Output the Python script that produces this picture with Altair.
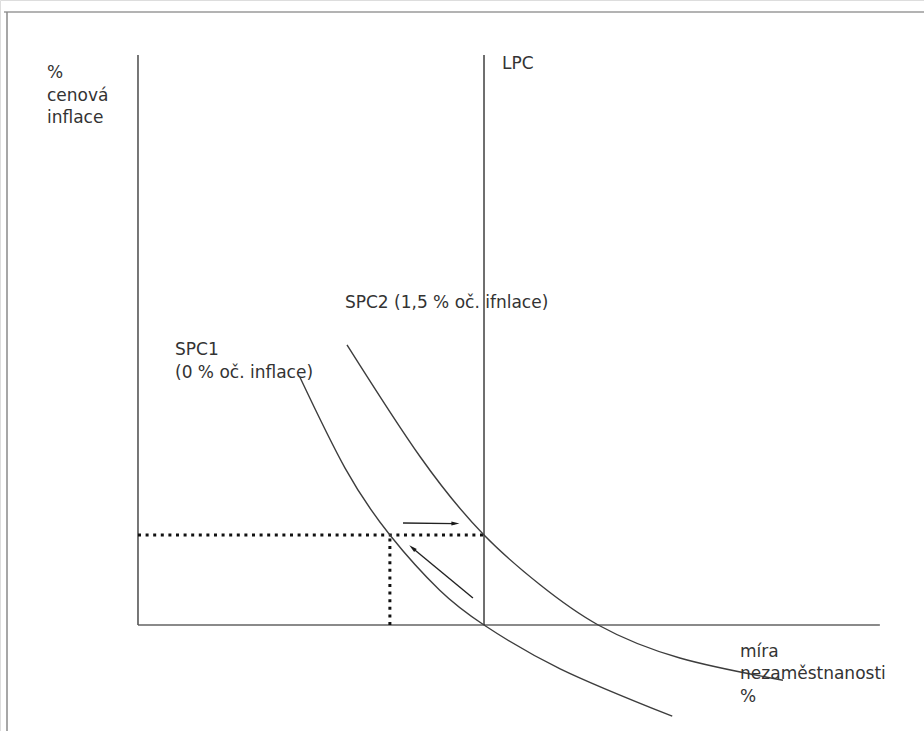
import altair as alt
import pandas as pd

# --- data (unemployment %, inflation %) ---
spc1_u = [2.34, 2.99, 3.64, 4.36, 5.00, 6.10, 7.72]
spc1_pi = [4.13, 2.62, 1.50, 0.58, 0.00, -0.73, -1.52]
spc2_u = [3.02, 4.08, 5.00, 5.81, 6.65, 7.83, 9.32]
spc2_pi = [4.67, 2.80, 1.50, 0.67, 0.00, -0.55, -0.92]
natural_u = 5.0
expected_pi = 1.5
spc1_at_expected = 3.64
axis_top = 9.5
axis_right = 10.72

# arrows: start and end points
arrow_u0 = [3.83, 4.84]
arrow_pi0 = [1.70, 0.45]
arrow_u1 = [4.58, 3.97]
arrow_pi1 = [1.69, 1.28]
arrow_angle = [90, 310]

# labels (first-line anchor) and lines
label_u = [-1.315, 5.26, 2.99, 0.535, 8.70]
label_pi = [9.20, 9.35, 5.37, 4.58, -0.45]
label_lines = [
    ["%", "cenová", "inflace"],
    ["LPC"],
    ["SPC2 (1,5 % oč. ifnlace)"],
    ["SPC1", "(0 % oč. inflace)"],
    ["míra", "nezaměstnanosti", "%"],
]
line_step = 0.375

X = alt.Scale(domain=[-1.994, 11.358], nice=False, zero=False)
Y = alt.Scale(domain=[-1.767, 10.418], nice=False, zero=False)

curves = pd.DataFrame(
    [{"u": u, "pi": p, "c": "SPC1", "o": i} for i, (u, p) in enumerate(zip(spc1_u, spc1_pi))]
    + [{"u": u, "pi": p, "c": "SPC2", "o": i} for i, (u, p) in enumerate(zip(spc2_u, spc2_pi))]
)

curve_layer = alt.Chart(curves).mark_line(
    interpolate="natural", color="#3d3d3d", strokeWidth=1.4
).encode(
    x=alt.X("u:Q", scale=X, axis=None),
    y=alt.Y("pi:Q", scale=Y, axis=None),
    detail="c:N",
    order="o:Q",
)

xaxis = alt.Chart(pd.DataFrame([{"u": 0, "pi": 0, "u2": axis_right}])).mark_rule(
    color="#8a8a8a", strokeWidth=2.2
).encode(x=alt.X("u:Q", scale=X, axis=None), x2="u2:Q",
         y=alt.Y("pi:Q", scale=Y, axis=None))

yaxis = alt.Chart(pd.DataFrame([{"u": 0, "pi": 0, "pi2": axis_top}])).mark_rule(
    color="#555555", strokeWidth=1.6
).encode(x=alt.X("u:Q", scale=X, axis=None),
         y=alt.Y("pi:Q", scale=Y, axis=None), y2="pi2:Q")

lpc = alt.Chart(pd.DataFrame([{"u": natural_u, "pi": 0, "pi2": axis_top}])).mark_rule(
    color="#222222", strokeWidth=1.3
).encode(x=alt.X("u:Q", scale=X, axis=None),
         y=alt.Y("pi:Q", scale=Y, axis=None), y2="pi2:Q")

dot_h = alt.Chart(pd.DataFrame([{"u": 0, "u2": natural_u, "pi": expected_pi}])).mark_rule(
    color="#111111", strokeWidth=3, strokeDash=[3, 4.6], strokeCap="butt"
).encode(x=alt.X("u:Q", scale=X, axis=None), x2="u2:Q",
         y=alt.Y("pi:Q", scale=Y, axis=None))

dot_v = alt.Chart(pd.DataFrame([{"u": spc1_at_expected, "pi": 0, "pi2": expected_pi}])).mark_rule(
    color="#111111", strokeWidth=3, strokeDash=[3, 4.6], strokeCap="butt"
).encode(x=alt.X("u:Q", scale=X, axis=None),
         y=alt.Y("pi:Q", scale=Y, axis=None), y2="pi2:Q")

arrows = pd.DataFrame({
    "u0": arrow_u0, "pi0": arrow_pi0, "u1": arrow_u1, "pi1": arrow_pi1, "ang": arrow_angle,
})
arrow_shaft = alt.Chart(arrows).mark_rule(color="#222222", strokeWidth=1.4).encode(
    x=alt.X("u0:Q", scale=X, axis=None), x2="u1:Q",
    y=alt.Y("pi0:Q", scale=Y, axis=None), y2="pi1:Q",
)
arrow_head = alt.Chart(arrows).mark_point(
    shape="M0,-1L0.45,0.8L-0.45,0.8Z", filled=True, color="#1a1a1a", size=80, opacity=1
).encode(
    x=alt.X("u1:Q", scale=X, axis=None),
    y=alt.Y("pi1:Q", scale=Y, axis=None),
    angle=alt.Angle("ang:Q", scale=None),
)

label_rows = []
for u, p, lines in zip(label_u, label_pi, label_lines):
    for i, t in enumerate(lines):
        label_rows.append({"u": u, "pi": p - i * line_step, "t": t})
labels = alt.Chart(pd.DataFrame(label_rows)).mark_text(
    align="left", baseline="middle", font="DejaVu Sans", fontSize=17, color="#333333"
).encode(
    x=alt.X("u:Q", scale=X, axis=None),
    y=alt.Y("pi:Q", scale=Y, axis=None),
    text="t:N",
)

frame_top = alt.Chart(pd.DataFrame([{"a": 0}])).mark_rule(color="#9a9a9a", strokeWidth=1.5).encode(
    x=alt.value(4), x2=alt.value(924), y=alt.value(12)
)
frame_left = alt.Chart(pd.DataFrame([{"a": 0}])).mark_rule(color="#8a8a8a", strokeWidth=1.5).encode(
    x=alt.value(7), y=alt.value(12), y2=alt.value(731)
)

chart = alt.layer(
    frame_top, frame_left, xaxis, yaxis, lpc, dot_h, dot_v, curve_layer,
    arrow_shaft, arrow_head, labels
).properties(
    width=924, height=731, autosize=alt.AutoSizeParams(type="none"), padding=0
).configure_view(stroke=None).configure(background="white")

chart.save("out.html", embed_options={"renderer": "svg", "actions": False})
